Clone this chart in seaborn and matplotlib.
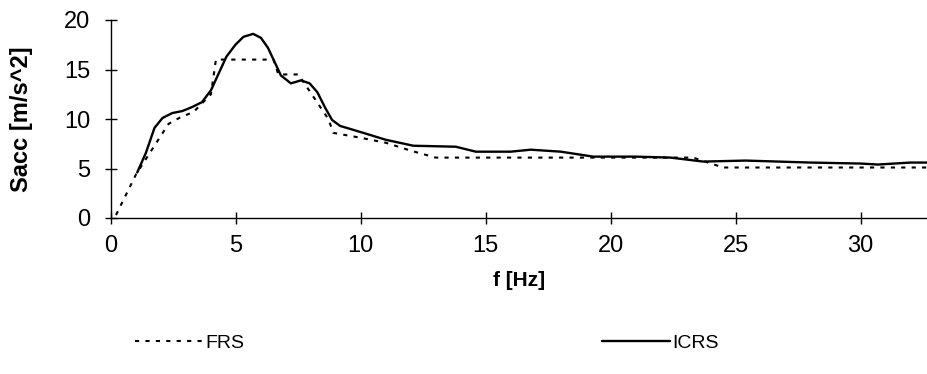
import seaborn as sns
import matplotlib.pyplot as plt
import pandas as pd

# FRS (dotted)
frs_f = [0.2, 1.0, 2.3, 2.8, 3.3, 4.0, 4.2, 6.5, 6.7, 7.5, 8.7, 8.9, 10.0, 11.0, 12.0, 13.0, 19.5, 23.3, 24.5, 32.7]
frs_s = [0.3, 4.4, 9.5, 10.2, 10.7, 12.5, 16.0, 16.0, 14.5, 14.5, 10.0, 8.6, 8.1, 7.6, 6.8, 6.1, 6.1, 6.1, 5.1, 5.1]

# ICRS (solid)
icrs_f = [1.05, 1.4, 1.74, 2.06, 2.45, 2.85, 3.24, 3.64, 4.0, 4.31, 4.62, 4.98, 5.3, 5.69, 6.0,
          6.28, 6.56, 6.8, 7.2, 7.6, 7.95, 8.26, 8.58, 8.85, 9.17, 10.1, 11.0, 12.1, 13.8, 14.6,
          16.0, 16.8, 18.0, 19.3, 21.0, 22.4, 23.7, 25.4, 28.0, 30.0, 30.7, 32.0, 32.7]
icrs_s = [4.6, 6.6, 9.1, 10.1, 10.6, 10.8, 11.2, 11.7, 12.9, 14.6, 16.3, 17.5, 18.3, 18.6, 18.2,
          17.2, 15.7, 14.4, 13.6, 13.9, 13.6, 12.7, 11.1, 9.9, 9.3, 8.6, 7.9, 7.3, 7.2, 6.7,
          6.7, 6.9, 6.7, 6.2, 6.2, 6.1, 5.7, 5.8, 5.6, 5.5, 5.4, 5.6, 5.6]

frs = pd.DataFrame({'f': frs_f, 'Sacc': frs_s})
icrs = pd.DataFrame({'f': icrs_f, 'Sacc': icrs_s})

sns.set_style('ticks')
plt.rcParams['font.family'] = ['Liberation Sans', 'DejaVu Sans']
plt.rcParams['text.color'] = 'black'
plt.rcParams['axes.labelcolor'] = 'black'

fig = plt.figure(figsize=(9.28, 3.74), dpi=100)
ax = fig.add_axes([111 / 928, 1 - 218 / 374, 1 - 111 / 928, (218 - 20) / 374])

sns.lineplot(data=frs, x='f', y='Sacc', ax=ax, color='black', lw=1.5,
             dashes=False, linestyle=(0, (2, 3)), label='FRS', sort=False)
sns.lineplot(data=icrs, x='f', y='Sacc', ax=ax, color='black', lw=1.7,
             label='ICRS', sort=False)

ax.set_xlim(0, 32.7)
ax.set_ylim(0, 20)
ax.set_xticks([0, 5, 10, 15, 20, 25, 30])
ax.set_yticks([0, 5, 10, 15, 20])
ax.tick_params(direction='inout', length=8, width=1, labelsize=17, colors='black')
ax.tick_params(axis='y', pad=11)
ax.tick_params(axis='x', pad=8)
sns.despine(ax=ax)
for s in ['left', 'bottom']:
    ax.spines[s].set_color('black')
    ax.spines[s].set_linewidth(1)

ax.set_xlabel('f [Hz]', fontsize=15, fontweight='bold')
ax.set_ylabel('Sacc [m/s^2]', fontsize=17, fontweight='bold')
ax.xaxis.set_label_coords(0.5, -0.27)
ax.yaxis.set_label_coords(-0.095, 0.5)

handles, labels = ax.get_legend_handles_labels()
ax.get_legend().remove()
fig.legend(handles, labels, loc='center', bbox_to_anchor=(427 / 928, 1 - 343 / 374),
           ncol=2, frameon=False, fontsize=14, handlelength=3.5, handletextpad=0.1,
           columnspacing=18.4, labelcolor='black')

fig.savefig('out.png', dpi=100)
